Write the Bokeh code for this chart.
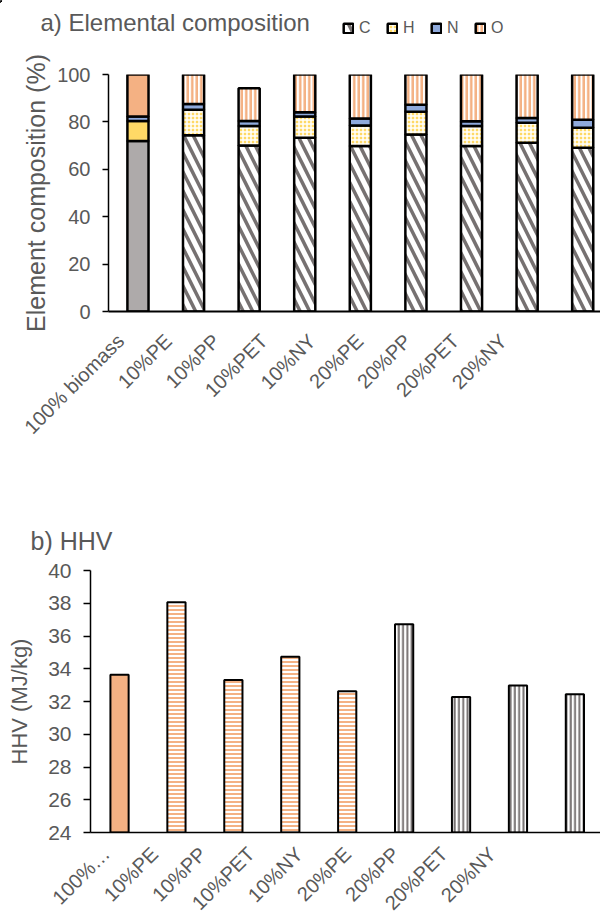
import numpy as np
from math import pi
from bokeh.plotting import figure
from bokeh.models import Range1d, FixedTicker, LinearAxis, Label, Legend, LegendItem
from bokeh.embed import file_html
from bokeh.resources import INLINE

# ---------------- data ----------------
categories = ["100% biomass", "10%PE", "10%PP", "10%PET", "10%NY",
              "20%PE", "20%PP", "20%PET", "20%NY"]
carbon = [71.9, 74.4, 70.0, 73.3, 69.8, 74.7, 69.8, 71.2, 69.1]
hydrogen = [8.5, 10.7, 8.3, 9.0, 8.7, 9.6, 8.5, 8.4, 8.4]
nitrogen = [1.9, 2.5, 2.1, 1.8, 2.9, 2.9, 2.0, 2.0, 3.4]
oxygen = [17.7, 12.4, 13.8, 15.9, 18.6, 12.8, 19.7, 18.4, 19.1]
comp_ticks = [0, 20, 40, 60, 80, 100]

hhv_labels = ["100%…", "10%PE", "10%PP", "10%PET", "10%NY",
              "20%PE", "20%PP", "20%PET", "20%NY"]
hhv = [33.64, 38.06, 33.31, 34.74, 32.62, 36.72, 32.27, 32.97, 32.44]
hhv_ticks = [24, 26, 28, 30, 32, 34, 36, 38, 40]

FONT = "Liberation Sans"
TXT = "#595959"
ORANGE = "#F4B183"
YELLOW = "#FFD966"
BLUE = "#8FAADC"
GREY = "#AEAAAA"
DARK = "#767171"

C_STYLE = dict(fill_color="white", hatch_pattern="\\", hatch_color=DARK, hatch_scale=19,
               hatch_weight=3.5, line_color="black", line_width=2.5)
H_STYLE = dict(fill_color=YELLOW, hatch_pattern="+", hatch_color="white", hatch_scale=4,
               hatch_weight=1.5, line_color="black", line_width=2.5)
N_STYLE = dict(fill_color=BLUE, line_color="black", line_width=2.5)
O_STYLE = dict(fill_color="white", hatch_pattern="|", hatch_color=ORANGE, hatch_scale=4.5,
               hatch_weight=2.5, line_color="black", line_width=2.5)


def strip(h):
    s = figure(width=600, height=h, x_range=Range1d(0, 600), y_range=Range1d(h, 0),
               output_backend="svg", toolbar_location=None, x_axis_location=None,
               y_axis_location=None, min_border=0)
    s.outline_line_color = None
    s.xgrid.visible = False
    s.ygrid.visible = False
    return s


# ---------------- strip with title a + legend ----------------
p0 = strip(45)
p0.add_layout(Label(x=40, y=8, text="a) Elemental composition", text_font=FONT,
                    text_font_size="24px", text_color=TXT, text_baseline="top"))
# legend-only renderers (their single bar lies outside the visible strip)
lc = p0.vbar(x=[-100], top=[1], bottom=[0], width=1, **C_STYLE)
lh = p0.vbar(x=[-100], top=[1], bottom=[0], width=1, **H_STYLE)
ln = p0.vbar(x=[-100], top=[1], bottom=[0], width=1, **N_STYLE)
lo = p0.vbar(x=[-100], top=[1], bottom=[0], width=1, **O_STYLE)
leg = Legend(items=[LegendItem(label="C", renderers=[lc]), LegendItem(label="H", renderers=[lh]),
                    LegendItem(label="N", renderers=[ln]), LegendItem(label="O", renderers=[lo])],
             orientation="horizontal", location=(342, 7))
leg.margin = 0
leg.padding = 0
leg.border_line_color = None
leg.background_fill_alpha = 0
leg.glyph_width = 12
leg.glyph_height = 12
leg.label_standoff = 5
leg.label_width = 13
leg.label_height = 20
leg.spacing = 14
leg.label_text_font = FONT
leg.label_text_font_size = "16px"
leg.label_text_color = TXT
p0.add_layout(leg, "center")

# ---------------- figure a ----------------
n = len(categories)
idx = np.arange(n)
c = np.array(carbon)
h = np.array(hydrogen)
nn = np.array(nitrogen)
o = np.array(oxygen)
c_top = c
h_top = c_top + h
n_top = h_top + nn
o_top = n_top + o

p1 = figure(width=600, height=417, x_range=Range1d(-0.53, 8.32), y_range=Range1d(0, 100),
            output_backend="svg", toolbar_location=None, x_axis_location=None,
            min_border_left=108, min_border_right=0, min_border_top=29, min_border_bottom=151)
p1.outline_line_color = None
p1.xgrid.visible = False
p1.ygrid.visible = False

W1 = 0.38
s = idx[:1]
p1.vbar(x=s, bottom=0, top=c_top[:1], width=W1, fill_color=GREY, line_color="black", line_width=2.5)
p1.vbar(x=s, bottom=c_top[:1], top=h_top[:1], width=W1, fill_color=YELLOW, line_color="black", line_width=2.5)
p1.vbar(x=s, bottom=h_top[:1], top=n_top[:1], width=W1, fill_color=BLUE, line_color="black", line_width=2.5)
p1.vbar(x=s, bottom=n_top[:1], top=o_top[:1], width=W1, fill_color=ORANGE, line_color="black", line_width=2.5)
s = idx[1:]
p1.vbar(x=s, bottom=0, top=c_top[1:], width=W1, **C_STYLE)
p1.vbar(x=s, bottom=c_top[1:], top=h_top[1:], width=W1, **H_STYLE)
p1.vbar(x=s, bottom=h_top[1:], top=n_top[1:], width=W1, **N_STYLE)
p1.vbar(x=s, bottom=n_top[1:], top=o_top[1:], width=W1, **O_STYLE)

ya = p1.yaxis[0]
ya.ticker = FixedTicker(ticks=comp_ticks)
ya.major_tick_out = 6
ya.major_tick_in = 0
ya.minor_tick_line_color = None
ya.axis_line_color = "black"
ya.axis_line_width = 1.5
ya.major_tick_line_color = "black"
ya.major_tick_line_width = 1.5
ya.major_label_text_font = FONT
ya.major_label_text_font_size = "20px"
ya.major_label_text_color = TXT
ya.major_label_standoff = 12
ya.axis_label = "Element composition (%)"
ya.axis_label_text_font = FONT
ya.axis_label_text_font_size = "25px"
ya.axis_label_text_font_style = "normal"
ya.axis_label_text_color = TXT
ya.axis_label_standoff = 4

p1.extra_x_ranges = {"lab": Range1d(-0.251, 10.031)}
xa = LinearAxis(x_range_name="lab", ticker=FixedTicker(ticks=list(range(n))),
                major_label_overrides={i: lab for i, lab in enumerate(categories)})
xa.major_label_orientation = pi / 4
xa.major_tick_line_color = None
xa.minor_tick_line_color = None
xa.axis_line_color = "black"
xa.axis_line_width = 2
xa.major_label_text_font = FONT
xa.major_label_text_font_size = "20px"
xa.major_label_text_color = TXT
xa.major_label_standoff = 20
p1.add_layout(xa, "below")

# ---------------- strip with title b ----------------
p0b = strip(93)
p0b.add_layout(Label(x=30, y=64, text="b) HHV", text_font=FONT, text_font_size="25px",
                     text_color=TXT, text_baseline="top"))

# ---------------- figure b ----------------
p2 = figure(width=600, height=369, x_range=Range1d(-0.51, 8.45), y_range=Range1d(24, 40),
            output_backend="svg", toolbar_location=None, x_axis_location=None,
            min_border_left=90, min_border_right=0, min_border_top=15, min_border_bottom=92)
p2.outline_line_color = None
p2.xgrid.visible = False
p2.ygrid.visible = False

W2 = 0.32
hv = np.array(hhv)
p2.vbar(x=idx[:1], bottom=24, top=hv[:1], width=W2, fill_color=ORANGE, line_color="black", line_width=2)
p2.vbar(x=idx[1:5], bottom=24, top=hv[1:5], width=W2, fill_color="white", hatch_pattern="-",
        hatch_color=ORANGE, hatch_scale=4, hatch_weight=2, line_color="black", line_width=2)
p2.vbar(x=idx[5:], bottom=24, top=hv[5:], width=W2, fill_color="white", hatch_pattern="|",
        hatch_color=DARK, hatch_scale=4.3, hatch_weight=2, line_color="black", line_width=2)

yb = p2.yaxis[0]
yb.ticker = FixedTicker(ticks=hhv_ticks)
yb.major_tick_out = 7
yb.major_tick_in = 0
yb.minor_tick_line_color = None
yb.axis_line_color = "black"
yb.axis_line_width = 1.5
yb.major_tick_line_color = "black"
yb.major_tick_line_width = 1.5
yb.major_label_text_font = FONT
yb.major_label_text_font_size = "21px"
yb.major_label_text_color = TXT
yb.major_label_standoff = 12
yb.axis_label = "HHV (MJ/kg)"
yb.axis_label_text_font = FONT
yb.axis_label_text_font_size = "22px"
yb.axis_label_text_font_style = "normal"
yb.axis_label_text_color = TXT
yb.axis_label_standoff = 13

p2.extra_x_ranges = {"lab": Range1d(-0.325, 10.241)}
xb = LinearAxis(x_range_name="lab", ticker=FixedTicker(ticks=list(range(n))),
                major_label_overrides={i: lab for i, lab in enumerate(hhv_labels)})
xb.major_label_orientation = pi / 4
xb.major_tick_line_color = None
xb.minor_tick_line_color = None
xb.axis_line_color = "black"
xb.axis_line_width = 1.5
xb.major_label_text_font = FONT
xb.major_label_text_font_size = "20px"
xb.major_label_text_color = TXT
xb.major_label_standoff = 12
p2.add_layout(xb, "below")

open("out.html", "w").write(file_html([p0, p1, p0b, p2], INLINE))
